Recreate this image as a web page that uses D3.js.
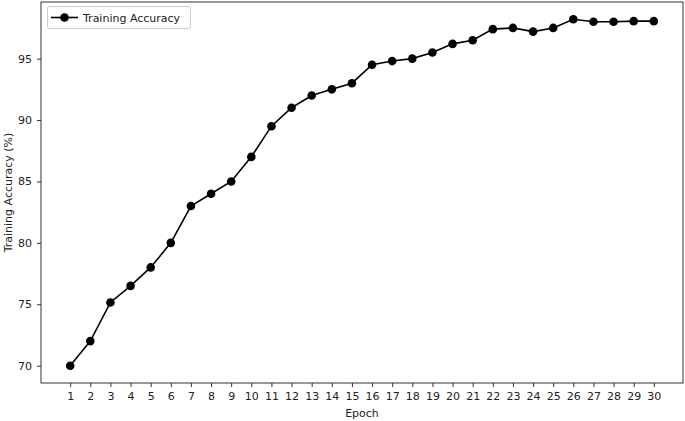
<!DOCTYPE html>
<html>
<head>
<meta charset="utf-8">
<script src="https://cdn.jsdelivr.net/npm/d3@7"></script>
<style>
  html, body { margin: 0; padding: 0; background: #fff; }
  svg { display: block; font-family: "DejaVu Sans", sans-serif; }
</style>
</head>
<body>
<svg id="chart" width="685" height="421"></svg>
<script>
const epochs = [1,2,3,4,5,6,7,8,9,10,11,12,13,14,15,16,17,18,19,20,21,22,23,24,25,26,27,28,29,30];
const accuracy = [70.0,72.0,75.15,76.5,78.0,80.0,83.0,84.0,85.0,87.0,89.5,91.0,92.0,92.5,93.0,94.5,94.8,95.0,95.5,96.2,96.5,97.4,97.5,97.2,97.5,98.2,98.0,98.0,98.05,98.05];
const yTicks = [70,75,80,85,90,95];
const seriesName = "Training Accuracy";
const xLabel = "Epoch";
const yLabel = "Training Accuracy (%)";

(function () {
const svg = d3.select("#chart");
const pL = 41, pR = 683, pT = 2, pB = 383;

const xPad = (30 - 1) * 0.05;
const x = d3.scaleLinear().domain([1 - xPad, 30 + xPad]).range([pL, pR]);
const yMin = d3.min(accuracy), yMax = d3.max(accuracy);
const yPad = (yMax - yMin) * 0.05;
const y = d3.scaleLinear().domain([yMin - yPad, yMax + yPad]).range([pB, pT]);

const axisColor = "#333";

// x axis
const gx = svg.append("g").attr("transform", `translate(0,${pB})`)
  .call(d3.axisBottom(x).tickValues(epochs).tickSize(4).tickPadding(5).tickFormat(d3.format("d")));
gx.select(".domain").remove();
gx.selectAll("line").attr("stroke", axisColor);
gx.selectAll("text").attr("font-size", 11).attr("fill", "#222").attr("font-family", "DejaVu Sans");

// y axis
const gy = svg.append("g").attr("transform", `translate(${pL},0)`)
  .call(d3.axisLeft(y).tickValues(yTicks).tickSize(4).tickPadding(5));
gy.select(".domain").remove();
gy.selectAll("line").attr("stroke", axisColor);
gy.selectAll("text").attr("font-size", 11).attr("fill", "#222").attr("font-family", "DejaVu Sans");

// frame
svg.append("rect").attr("x", pL).attr("y", pT).attr("width", pR - pL).attr("height", pB - pT)
  .attr("fill", "none").attr("stroke", axisColor).attr("stroke-width", 1);

// labels
svg.append("text").attr("x", (pL + pR) / 2).attr("y", 417).attr("text-anchor", "middle")
  .attr("font-size", 11).attr("fill", "#222").text(xLabel);
svg.append("text").attr("transform", `translate(12,${(pT + pB) / 2}) rotate(-90)`)
  .attr("text-anchor", "middle").attr("font-size", 11).attr("fill", "#222").text(yLabel);

// line
const data = epochs.map((e, i) => ({e, v: accuracy[i]}));
svg.append("path").datum(data)
  .attr("fill", "none").attr("stroke", "#000").attr("stroke-width", 1.6)
  .attr("d", d3.line().x(d => x(d.e)).y(d => y(d.v)));
svg.append("g").selectAll("circle").data(data).join("circle")
  .attr("cx", d => x(d.e)).attr("cy", d => y(d.v)).attr("r", 4.3).attr("fill", "#000");

// legend
const lg = svg.append("g");
lg.append("rect").attr("x", 47.5).attr("y", 6.5).attr("width", 143).attr("height", 22).attr("rx", 2)
  .attr("fill", "#fff").attr("stroke", "#ccc");
lg.append("line").attr("x1", 51).attr("x2", 78).attr("y1", 17.5).attr("y2", 17.5).attr("stroke", "#000").attr("stroke-width", 1.6);
lg.append("circle").attr("cx", 64.5).attr("cy", 17.5).attr("r", 4.3).attr("fill", "#000");
lg.append("text").attr("x", 83).attr("y", 21.5).attr("font-size", 11).attr("fill", "#222").text(seriesName);
})();
</script>
</body>
</html>
